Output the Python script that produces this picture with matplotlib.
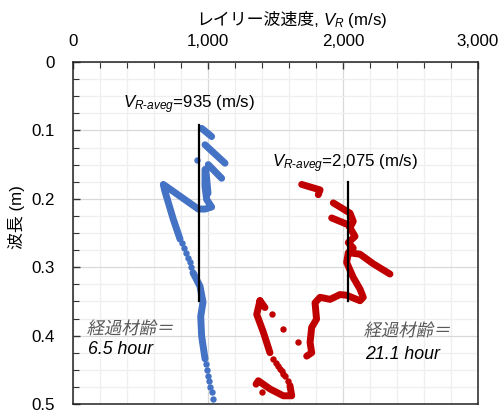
import matplotlib
matplotlib.use("Agg")
import matplotlib.pyplot as plt
import numpy as np
from matplotlib.patches import PathPatch
from matplotlib.textpath import TextPath
from matplotlib.font_manager import FontProperties
from matplotlib.transforms import Affine2D
from matplotlib.ticker import FixedLocator, MultipleLocator, FuncFormatter

plt.rcParams['font.family'] = ['Liberation Sans', 'Noto Sans CJK JP', 'DejaVu Sans']
plt.rcParams['mathtext.fontset'] = 'custom'
plt.rcParams['mathtext.rm'] = 'Liberation Sans'
plt.rcParams['mathtext.it'] = 'Liberation Sans:italic'

# --- data (velocity m/s, wavelength m) ---
nan = np.nan
# 6.5 hour: dense trace (nan = break between strokes)
blue_v = [953, 1027, nan, 978, 1126, nan, 1002, 1101, nan,
          978, 978, 990, 1027, 978, 928, 669, 681, 743, 793, nan,
          985, 1000, nan,
          889, 941, 963, 946, 953, 978]
blue_lam = [0.097, 0.109, nan, 0.121, 0.148, nan, 0.150, 0.170, nan,
            0.157, 0.182, 0.201, 0.212, 0.215, 0.215, 0.179, 0.189, 0.230, 0.259, nan,
            0.160, 0.192, nan,
            0.308, 0.328, 0.351, 0.372, 0.401, 0.434]
# 6.5 hour: separate points
blue_dot_v = [916, 810, 825, 840, 852, 865, 877, 889,
              985, 993, 1000, 1010, 1018, 1027, 1037]
blue_dot_lam = [0.143, 0.265, 0.272, 0.279, 0.286, 0.293, 0.300, 0.308,
                0.442, 0.451, 0.459, 0.467, 0.475, 0.483, 0.493]

# 21.1 hour: dense trace
red_v = [1694, 1830, 1817, nan,
         1928, 2052, 2076, 2052, nan,
         1916, 2039, 2089, 2039, 2076, 2039, 2027, 2076, 2126, 2150, 2126,
         2027, 1978, 1904, 1830, 1793, 1804, 1768, 1756, 1768, 1731, nan,
         2052, 2126, 2224, 2348, nan,
         1385, 1422, nan, 1385, 1361, 1410, 1459, nan,
         1607, 1620, 1558, 1459, 1373, 1356]
red_lam = [0.179, 0.187, 0.194, nan,
           0.206, 0.221, 0.233, 0.242, nan,
           0.228, 0.238, 0.255, 0.264, 0.272, 0.279, 0.293, 0.315, 0.332, 0.344, 0.349,
           0.341, 0.340, 0.347, 0.344, 0.352, 0.376, 0.388, 0.410, 0.425, 0.430, nan,
           0.279, 0.281, 0.295, 0.310, nan,
           0.349, 0.359, nan, 0.349, 0.369, 0.395, 0.425, nan,
           0.473, 0.488, 0.488, 0.478, 0.466, 0.471]
# 21.1 hour: separate points
red_dot_v = [1472, 1558, 1669, 1484, 1502, 1519, 1533, 1546, 1558, 1570, 1590, 1398]
red_dot_lam = [0.369, 0.391, 0.410, 0.434, 0.440, 0.445, 0.449, 0.452, 0.456, 0.459, 0.466, 0.483]

# average velocity lines
avg_labels = ['935', '2,075']
avg_v = [930, 2040]
avg_top = [0.092, 0.175]
avg_bot = [0.350, 0.350]

ages = ['6.5 hour', '21.1 hour']
x_ticks = [0, 1000, 2000, 3000]
y_ticks = [0, 0.1, 0.2, 0.3, 0.4, 0.5]

blue = '#4472C4'
red = '#C00000'
fs = 12.2

W, H = 501, 412
fig = plt.figure(figsize=(W / 100, H / 100), dpi=100)
ax = fig.add_axes([73 / W, 1 - 404 / H, 405 / W, 342 / H])

ax.set_xlim(0, 3000)
ax.set_ylim(0.5, 0)

# grid
ax.xaxis.set_major_locator(FixedLocator(x_ticks))
ax.yaxis.set_major_locator(FixedLocator(y_ticks))
ax.xaxis.set_minor_locator(MultipleLocator(200))
ax.yaxis.set_minor_locator(MultipleLocator(0.025))
ax.grid(which='minor', color='#efefef', lw=0.9)
ax.grid(which='major', color='#d9d9d9', lw=0.9)
ax.set_axisbelow(True)

ax.xaxis.set_major_formatter(FuncFormatter(lambda v, p: f'{int(v):,}'))
ax.yaxis.set_major_formatter(FuncFormatter(lambda v, p: '0' if v == 0 else f'{v:.1f}'))
ax.xaxis.tick_top()
ax.tick_params(which='both', direction='in', top=True, bottom=False,
               left=True, right=False, labelsize=fs, color='#333333')
ax.tick_params(which='major', length=5, width=1)
ax.tick_params(which='minor', length=4, width=0.8)
ax.tick_params(axis='x', pad=9)
ax.tick_params(axis='y', pad=13)
for s in ax.spines.values():
    s.set_color('#222222')
    s.set_linewidth(1.1)

# axis titles (split so the japanese part keeps its font)
fig.text(319 / W, 1 - 25 / H, 'レイリー波速度,', fontsize=fs, ha='right', va='baseline')
fig.text(323 / W, 1 - 25 / H, r'$V_R$ (m/s)', fontsize=fs, ha='left', va='baseline')
ax.set_ylabel('波長 (m)', fontsize=fs)
ax.yaxis.set_label_coords(-0.118, 0.547)

# data
lw = 5.0
ms = 4.6
ax.plot(blue_v, blue_lam, color=blue, lw=lw, solid_capstyle='round', solid_joinstyle='round')
ax.plot(blue_dot_v, blue_dot_lam, 'o', color=blue, ms=ms, mew=0)
ax.plot(red_v, red_lam, color=red, lw=lw, solid_capstyle='round', solid_joinstyle='round')
ax.plot(red_dot_v, red_dot_lam, 'o', color=red, ms=ms, mew=0)

for v, t, b in zip(avg_v, avg_top, avg_bot):
    ax.plot([v, v], [t, b], color='black', lw=1.6)

ax.text(370, 0.063, r'$V_{R\text{-}aveg}$=' + avg_labels[0] + ' (m/s)',
        fontsize=fs, va='center', ha='left')
ax.text(1475, 0.148, r'$V_{R\text{-}aveg}$=' + avg_labels[1] + ' (m/s)',
        fontsize=fs, va='center', ha='left')

# slanted japanese label + italic age
fs_px = 12.5 * 100 / 72
jp_prop = FontProperties(family='Noto Sans CJK JP')
for (x, y, ya), age in zip([(111, 0.388, 0.421), (2163, 0.391, 0.427)], ages):
    tp = TextPath((0, 0), '経過材齢＝', size=fs_px, prop=jp_prop)
    px, py = ax.transData.transform((x, y))
    tr = Affine2D().translate(0, -fs_px * 0.38).skew_deg(12, 0).translate(px, py)
    ax.add_patch(PathPatch(tp, transform=tr, color='#595959', lw=0, clip_on=False))
    ax.text(x, ya, age, fontsize=12.8, style='italic', va='center', ha='left')

fig.savefig('out.png', dpi=100)
